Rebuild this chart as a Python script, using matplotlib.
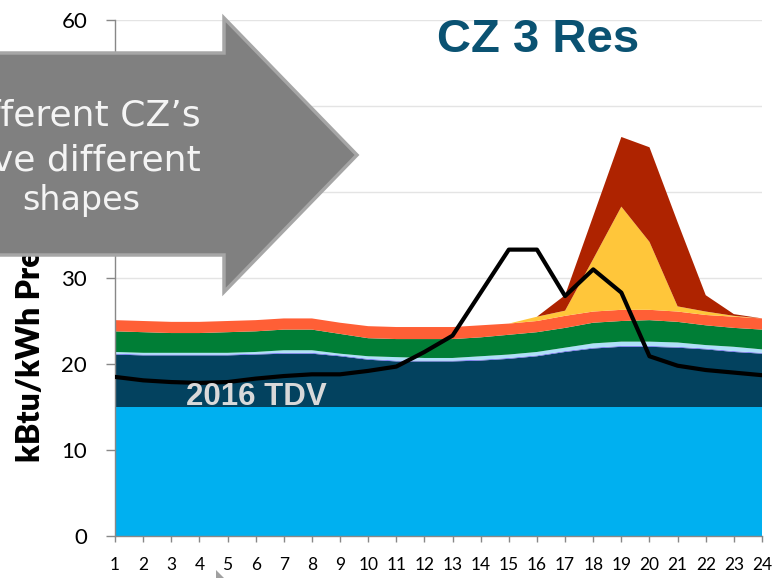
import matplotlib
matplotlib.use("Agg")
import matplotlib.pyplot as plt
from matplotlib.patches import Polygon

# Hours of the day
hours = list(range(1, 25))

# Stacked components (kBtu/kWh), bottom to top
base = [15.0] * 24
navy = [6.1, 6.0, 6.0, 6.0, 6.0, 6.1, 6.2, 6.2, 5.9, 5.5, 5.3, 5.3,
        5.3, 5.4, 5.6, 5.9, 6.4, 6.8, 7.0, 7.0, 6.9, 6.7, 6.4, 6.2]
purple = [0.1] * 24
light_blue = [0.2, 0.2, 0.2, 0.2, 0.2, 0.2, 0.3, 0.3, 0.2, 0.3, 0.4, 0.3,
              0.3, 0.4, 0.4, 0.4, 0.4, 0.5, 0.5, 0.5, 0.5, 0.4, 0.5, 0.4]
green = [2.4, 2.4, 2.3, 2.3, 2.4, 2.4, 2.4, 2.4, 2.3, 2.1, 2.1, 2.2,
         2.2, 2.2, 2.3, 2.3, 2.3, 2.4, 2.4, 2.5, 2.4, 2.3, 2.2, 2.3]
orange = [1.3, 1.3, 1.3, 1.3, 1.3, 1.3, 1.3, 1.3, 1.3, 1.4, 1.4, 1.4,
          1.4, 1.4, 1.3, 1.3, 1.4, 1.3, 1.3, 1.2, 1.2, 1.2, 1.3, 1.3]
yellow = [0.0, 0.0, 0.0, 0.0, 0.0, 0.0, 0.0, 0.0, 0.0, 0.0, 0.0, 0.0,
          0.0, 0.0, 0.0, 0.5, 0.6, 6.1, 12.0, 7.9, 0.6, 0.4, 0.1, 0.0]
dark_red = [0.0, 0.0, 0.0, 0.0, 0.0, 0.0, 0.0, 0.0, 0.0, 0.0, 0.0, 0.0,
            0.0, 0.0, 0.0, 0.0, 1.8, 5.0, 8.1, 11.0, 9.8, 1.9, 0.2, 0.0]

# 2016 TDV line
tdv_2016 = [18.5, 18.1, 17.9, 17.8, 17.9, 18.3, 18.6, 18.8, 18.8, 19.2, 19.7, 21.4,
            23.3, 28.3, 33.3, 33.3, 27.9, 31.0, 28.3, 20.9, 19.8, 19.3, 19.0, 18.7]

colors = ['#00B0F0', '#03425F', '#7070EE', '#AEE0F8', '#007E36',
          '#FF5F36', '#FFC63A', '#AE2300']

W, H = 773, 578


def fx(x):
    return x / W


def fy(y):
    return 1 - y / H


fig = plt.figure(figsize=(W / 100, H / 100), dpi=100)
ax = fig.add_axes([fx(115), fy(536), fx(762) - fx(115), fy(20) - fy(536)])

ax.stackplot(hours, base, navy, purple, light_blue, green, orange, yellow, dark_red,
             colors=colors, linewidth=0, zorder=2)
ax.plot(hours, tdv_2016, color='black', linewidth=3, zorder=3)

ax.set_xlim(1, 24)
ax.set_ylim(0, 60)
ax.set_xticks(hours)
ax.set_yticks(range(0, 61, 10))
ax.grid(axis='y', color='#E4E4E4', linewidth=1, zorder=0)
ax.set_axisbelow(True)

for s in ['top', 'right']:
    ax.spines[s].set_visible(False)
for s in ['left', 'bottom']:
    ax.spines[s].set_color('#888888')
    ax.spines[s].set_linewidth(1)

ax.tick_params(axis='y', length=6.5, width=1, color='#888888', pad=13.5)
ax.tick_params(axis='x', length=4.3, width=1, color='#888888', pad=11)
for lab in ax.get_xticklabels():
    lab.set_fontfamily('Lato')
    lab.set_fontsize(12.5)
for lab in ax.get_yticklabels():
    lab.set_fontfamily('Lato')
    lab.set_fontsize(16)

ax.text(16.05, 56.3, 'CZ 3 Res', ha='center', va='baseline', fontsize=34,
        fontweight='bold', color='#0A5272', family='Liberation Sans', zorder=4)
ax.text(6.03, 15.23, '2016 TDV', ha='center', va='baseline', fontsize=22.5,
        fontweight='bold', color='#D9D9D9', family='Liberation Sans', zorder=4)

# axis title (partly covered by the arrow)
fig.text(fx(31), fy(462), 'kBtu/kWh Present Value', rotation=90, ha='center',
         va='bottom', fontsize=23, fontweight='heavy', family='Lato', zorder=1)

# grey callout arrow
arrow_pts = [(-10, 53), (224, 53), (224, 18), (357, 155), (224, 292), (224, 255), (-10, 255)]
arrow = Polygon([(fx(x), fy(y)) for x, y in arrow_pts], closed=True,
                facecolor='#808080', edgecolor='#A6A6A6', linewidth=2.5,
                transform=fig.transFigure, zorder=5)
fig.add_artist(arrow)

# callout text, cut off by the left edge of the picture
fig.text(fx(201), fy(125), 'Different CZ\u2019s', ha='right', va='baseline',
         fontsize=26, color='#F4F4F4', family='DejaVu Sans', zorder=6)
fig.text(fx(201), fy(170), 'have different', ha='right', va='baseline',
         fontsize=26, color='#F4F4F4', family='DejaVu Sans', zorder=6)
fig.text(fx(22), fy(210), 'shapes', ha='left', va='baseline',
         fontsize=24, color='#F4F4F4', family='DejaVu Sans', zorder=6)

# small cursor corner at the bottom
cursor = Polygon([(fx(216), fy(570)), (fx(216), fy(579)), (fx(225), fy(579))],
                 closed=True, facecolor='#A0A0A0', edgecolor='none',
                 transform=fig.transFigure, zorder=6)
fig.add_artist(cursor)

plt.savefig('out.png', dpi=100)
